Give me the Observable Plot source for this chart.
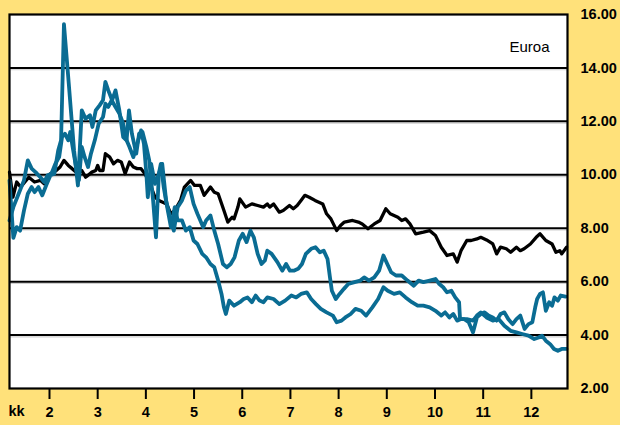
<!DOCTYPE html>
<html><head><meta charset="utf-8">
<script src="https://cdn.jsdelivr.net/npm/d3@7"></script>
<script src="https://cdn.jsdelivr.net/npm/@observablehq/plot@0.6"></script>
<style>
html,body{margin:0;padding:0;background:#FFE17A;}
#chart svg{display:block}
</style></head><body><div id="chart"></div>
<script>
// month ticks and value ticks
const monthTicks = [2,3,4,5,6,7,8,9,10,11,12];
const valueTicks = [2,4,6,8,10,12,14,16];
const gridValues = [4,6,8,10,12,14];
const xLabel = "kk";
const unitLabel = "Euroa";

// [month, euros]
const blackSeries = [
[1.17,10.1],[1.24,9.16],[1.32,9.73],[1.40,9.54],[1.57,9.91],[1.69,9.73],[1.81,9.79],[1.89,9.66],
[2.02,10.04],[2.14,10.16],[2.22,10.29],[2.30,10.54],[2.39,10.35],[2.47,10.23],[2.59,10.04],[2.67,10.16],
[2.75,9.91],[2.88,10.1],[2.96,10.16],[3.00,10.35],[3.04,10.16],[3.11,10.16],[3.16,10.79],[3.25,10.66],
[3.33,10.41],[3.41,10.54],[3.49,10.48],[3.57,10.04],[3.66,10.48],[3.74,10.29],[3.82,10.23],[3.90,10.23],
[3.98,10.04],[4.07,9.73],[4.19,9.16],[4.27,9.04],[4.43,8.91],[4.52,8.54],[4.60,8.66],[4.72,9.04],
[4.80,9.54],[4.93,9.79],[5.01,9.6],[5.13,9.6],[5.21,9.23],[5.34,9.54],[5.42,9.35],[5.50,9.29],
[5.62,8.66],[5.70,8.23],[5.79,8.41],[5.83,8.35],[5.91,8.79],[5.95,9.1],[6.07,8.79],[6.20,8.91],
[6.32,8.85],[6.44,8.79],[6.52,8.91],[6.57,8.79],[6.65,8.91],[6.77,8.6],[6.85,8.66],[6.98,8.85],
[7.06,8.73],[7.14,8.85],[7.22,9.04],[7.30,9.23],[7.39,9.16],[7.51,9.04],[7.67,8.91],[7.75,8.54],
[7.84,8.35],[7.96,7.91],[8.04,8.1],[8.12,8.23],[8.29,8.29],[8.41,8.23],[8.49,8.16],[8.61,7.98],
[8.74,8.16],[8.86,8.29],[8.98,8.73],[9.07,8.54],[9.23,8.41],[9.31,8.29],[9.39,8.35],[9.48,8.16],
[9.60,7.79],[9.76,7.85],[9.89,7.91],[10.01,7.73],[10.13,7.29],[10.25,6.98],[10.38,7.04],[10.46,6.73],
[10.54,7.16],[10.66,7.54],[10.75,7.54],[10.87,7.6],[10.95,7.66],[11.07,7.56],[11.20,7.41],[11.28,7.04],
[11.36,7.29],[11.48,7.23],[11.57,7.1],[11.69,7.29],[11.77,7.16],[11.85,7.23],[11.98,7.41],[12.10,7.66],
[12.18,7.79],[12.30,7.54],[12.43,7.41],[12.51,7.1],[12.59,7.16],[12.63,7.04],[12.73,7.29]
];

const tealSeriesA = [
[1.17,9.79],[1.25,7.64],[1.32,8.04],[1.39,7.91],[1.47,8.66],[1.55,9.29],[1.63,9.54],[1.69,9.35],
[1.77,9.54],[1.85,9.23],[1.93,9.6],[2.02,9.98],[2.10,10.04],[2.18,10.91],[2.24,11.29],[2.30,15.64],
[2.40,13.41],[2.51,10.91],[2.59,9.6],[2.67,12.41],[2.75,12.1],[2.84,12.23],[2.89,11.79],[2.96,12.41],
[3.04,12.6],[3.11,12.79],[3.16,13.48],[3.22,13.16],[3.30,12.79],[3.37,13.16],[3.45,12.41],[3.53,11.41],
[3.60,11.29],[3.65,12.41],[3.71,11.54],[3.80,10.79],[3.86,11.54],[3.93,11.6],[4.01,11.04],[4.07,10.54],
[4.15,9.04],[4.21,7.66],[4.27,10.04],[4.34,10.41],[4.42,9.04],[4.50,8.41],[4.58,7.91],[4.66,8.79],
[4.75,9.04],[4.83,9.41],[4.91,9.54],[4.99,8.91],[5.07,8.54],[5.19,8.04],[5.25,8.29],[5.34,8.48],
[5.42,7.91],[5.50,7.41],[5.60,6.66],[5.68,6.54],[5.76,6.66],[5.84,6.91],[5.93,7.54],[6.01,7.79],
[6.09,7.48],[6.17,7.91],[6.24,7.66],[6.32,7.04],[6.40,6.66],[6.47,6.79],[6.52,7.16],[6.61,7.04],
[6.73,6.73],[6.83,6.41],[6.91,6.66],[6.99,6.41],[7.07,6.41],[7.16,6.48],[7.24,6.66],[7.32,7.04],
[7.43,7.23],[7.52,7.29],[7.61,7.1],[7.69,7.16],[7.77,6.85],[7.82,6.16],[7.86,5.66],[7.94,5.35],
[8.02,5.54],[8.11,5.73],[8.20,5.91],[8.33,5.98],[8.45,6.04],[8.53,6.16],[8.63,6.04],[8.74,6.16],
[8.84,6.41],[8.93,6.98],[9.01,6.66],[9.09,6.35],[9.19,6.23],[9.31,6.23],[9.43,6.04],[9.56,5.85],
[9.66,6.04],[9.76,5.98],[9.89,6.04],[10.01,6.1],[10.09,5.91],[10.17,5.79],[10.25,5.6],[10.34,5.66],
[10.42,5.41],[10.50,5.23],[10.52,4.6],[10.60,4.6],[10.70,4.48],[10.79,4.1],[10.87,4.66],[10.95,4.79],
[11.03,4.85],[11.11,4.73],[11.20,4.66],[11.28,4.54],[11.36,4.79],[11.44,4.85],[11.52,4.6],[11.61,4.41],
[11.69,4.6],[11.77,4.73],[11.86,4.23],[11.94,4.41],[12.02,4.48],[12.08,5.04],[12.12,5.35],[12.18,5.54],
[12.24,5.6],[12.30,4.91],[12.37,5.23],[12.43,5.1],[12.48,5.41],[12.55,5.29],[12.61,5.48],[12.71,5.44]
];

const tealSeriesB = [
[1.17,8.29],[1.25,8.79],[1.36,9.29],[1.47,9.79],[1.55,10.54],[1.63,10.23],[1.71,10.1],[1.81,9.91],
[1.89,9.73],[1.96,9.98],[2.04,10.04],[2.12,10.41],[2.20,10.66],[2.26,11.41],[2.32,11.54],[2.39,11.29],
[2.43,11.6],[2.48,11.04],[2.55,10.29],[2.61,9.79],[2.67,11.04],[2.73,10.66],[2.80,10.29],[2.86,10.79],
[2.94,11.29],[3.02,11.91],[3.11,12.16],[3.16,12.66],[3.22,12.54],[3.29,12.79],[3.37,12.54],[3.45,12.29],
[3.53,11.91],[3.60,11.29],[3.66,11.04],[3.74,10.66],[3.82,11.16],[3.90,11.66],[3.96,11.16],[4.01,10.04],
[4.04,9.16],[4.11,10.41],[4.19,9.66],[4.27,10.04],[4.31,10.41],[4.37,9.54],[4.43,8.91],[4.52,8.04],
[4.60,8.79],[4.66,8.29],[4.75,8.29],[4.83,7.91],[4.91,8.04],[4.99,7.54],[5.07,7.41],[5.17,7.04],
[5.25,6.91],[5.34,6.66],[5.42,6.54],[5.50,6.04],[5.57,5.54],[5.62,5.04],[5.66,4.79],[5.73,5.29],
[5.83,5.1],[5.95,5.23],[6.03,5.35],[6.11,5.41],[6.20,5.23],[6.28,5.48],[6.36,5.29],[6.44,5.23],
[6.52,5.41],[6.65,5.35],[6.77,5.16],[6.89,5.29],[7.02,5.48],[7.12,5.41],[7.22,5.54],[7.34,5.6],
[7.43,5.35],[7.53,5.16],[7.63,4.98],[7.75,4.85],[7.88,4.73],[7.96,4.48],[8.06,4.54],[8.14,4.66],
[8.25,4.79],[8.35,4.98],[8.47,4.91],[8.57,4.73],[8.70,5.04],[8.82,5.35],[8.93,5.79],[9.02,5.66],
[9.15,5.54],[9.27,5.6],[9.39,5.41],[9.52,5.23],[9.64,5.1],[9.76,5.1],[9.89,5.04],[10.01,4.91],
[10.13,4.73],[10.21,4.85],[10.30,4.66],[10.38,4.79],[10.46,4.54],[10.54,4.6],[10.66,4.6],[10.79,4.54],
[10.87,4.73],[10.95,4.85],[11.07,4.66],[11.20,4.54],[11.32,4.6],[11.44,4.35],[11.57,4.16],[11.69,4.1],
[11.81,4.04],[11.94,3.98],[12.06,3.85],[12.15,3.91],[12.22,3.98],[12.30,3.79],[12.39,3.66],[12.47,3.48],
[12.55,3.41],[12.63,3.48],[12.73,3.48]
];

const yellow = "#FFE17A";
const teal = "#0a6c93";
const font = "'Liberation Sans', Arial, Helvetica, sans-serif";

const chart = Plot.plot({
  width: 620,
  height: 425,
  marginLeft: 9,
  marginRight: 53,
  marginTop: 14,
  marginBottom: 37,
  style: {background: yellow, fontFamily: font, color: "black"},
  x: {domain: [1.17, 12.75]},
  y: {domain: [2, 16]},
  marks: [
    Plot.frame({fill: "white"}),
    Plot.ruleY(gridValues, {stroke: "#cfcfcf", strokeWidth: 1.2, dy: 1.8}),
    Plot.ruleY(gridValues, {stroke: "black", strokeWidth: 2}),
    Plot.line(blackSeries, {x: d => d[0], y: d => d[1], stroke: "black", strokeWidth: 3.3}),
    Plot.line(tealSeriesB, {x: d => d[0], y: d => d[1], stroke: teal, strokeWidth: 3.8}),
    Plot.line(tealSeriesA, {x: d => d[0], y: d => d[1], stroke: teal, strokeWidth: 3.8}),
    Plot.frame({stroke: "black", strokeWidth: 2.2}),
    Plot.axisY({ticks: valueTicks, anchor: "right", tickSize: 0, tickPadding: 13,
      tickFormat: d => d.toFixed(2), fontSize: 14.5, fontWeight: "bold", label: null}),
    Plot.axisX({ticks: monthTicks, anchor: "bottom", tickSize: 11, tickPadding: 7, strokeWidth: 2,
      fontSize: 14.5, fontWeight: "bold", label: null}),
    Plot.text([xLabel], {frameAnchor: "bottom-left", text: d => d, dx: -1, dy: 27,
      textAnchor: "start", fontSize: 14.5, fontWeight: "bold"}),
    Plot.text([unitLabel], {frameAnchor: "top-right", text: d => d, dx: -18, dy: 27,
      textAnchor: "end", fontSize: 15})
  ]
});
document.getElementById("chart").appendChild(chart);
</script>
</body></html>
